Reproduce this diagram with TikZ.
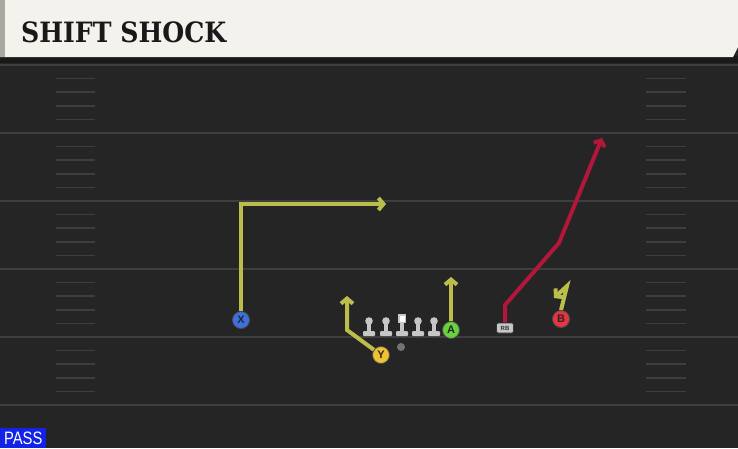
\documentclass[tikz,border=0pt]{standalone}
\usepackage{fontspec}
\usepackage{tikz}
\newfontfamily\titlefont{DejaVu Serif Condensed}
\newfontfamily\labelfont{Liberation Sans}
\newfontfamily\passfont[FakeStretch=0.82]{Liberation Sans}
\newcommand{\lTitle}{SHIFT SHOCK}
\newcommand{\lPlayType}{PASS}
\usetikzlibrary{arrows.meta, positioning, backgrounds}
\pgfdeclarelayer{field}
\pgfsetlayers{field,background,main}
\definecolor{fieldDark}{RGB}{37, 37, 37}
\definecolor{fieldLine}{RGB}{62, 62, 62}
\definecolor{headerCream}{RGB}{244, 242, 236}
\definecolor{headerStrip}{RGB}{168, 168, 160}
\definecolor{routeYellow}{RGB}{188, 190, 76}
\definecolor{routeRed}{RGB}{178, 22, 58}
\definecolor{playerBlue}{RGB}{62, 112, 226}
\definecolor{playerYellow}{RGB}{240, 194, 48}
\definecolor{playerGreen}{RGB}{104, 210, 60}
\definecolor{playerRed}{RGB}{232, 52, 64}
\definecolor{linemanGrey}{RGB}{198, 198, 198}
\definecolor{passBlue}{RGB}{18, 34, 230}

\begin{document}
\begin{tikzpicture} [
        x=1pt, y=-1pt,
        yard line/.style={draw=fieldLine, line width=2pt},
        hash mark/.style={draw=fieldLine, line width=1.6pt},
        route/.style={draw=#1, line width=4pt, line join=miter, -{Straight Barb[length=5pt, width=12pt]}},
        player/.style={circle, draw=black!70, line width=0.8pt, fill=#1, minimum size=17pt, inner sep=0pt, font=\labelfont\bfseries\fontsize{11}{11}\selectfont, text=black!85},
        lineman/.style={fill=linemanGrey},
        qb/.style={circle, fill=black!55, minimum size=8pt, inner sep=0pt},
        rb/.style={draw=black!80, line width=0.6pt, fill=linemanGrey, rounded corners=2pt, minimum width=17pt, minimum height=10pt, inner sep=0pt, font=\labelfont\bfseries\fontsize{6}{6}\selectfont, text=black!80},
        title/.style={anchor=base west, inner sep=0pt, font=\titlefont\bfseries\fontsize{28}{28}\selectfont, text=black!90},
        play type/.style={anchor=south west, fill=passBlue, minimum width=46pt, minimum height=20pt, inner sep=0pt, text=white, font=\passfont\fontsize{18}{18}\selectfont},
    ]

    \useasboundingbox (0,0) rectangle (738,448);

    % field
    \begin{pgfonlayer}{field}
    \fill[fieldDark] (0,0) rectangle (738,448);
    \foreach \yl in {65,133,201,269,337,405} {
        \draw[yard line] (0,\yl) -- (738,\yl);
    }
    \foreach \yl in {65,133,201,269,337} {
        \foreach \k in {1,...,4} {
            \draw[hash mark] (56,{\yl+13.6*\k}) -- (95,{\yl+13.6*\k});
            \draw[hash mark] (646,{\yl+13.6*\k}) -- (686,{\yl+13.6*\k});
        }
    }
    \end{pgfonlayer}

    % header
    \fill[black!90] (0,56) rectangle (738,63);
    \fill[headerCream] (0,0) -- (738,0) -- (738,47) -- (733,57) -- (0,57) -- cycle;
    \fill[headerStrip] (0,0) rectangle (5,57);
    \path (21,42) node[title] (title) {\lTitle};

    % players
    \path (241,320) node[player=playerBlue] (X) {X};
    \path (381,355) node[player=playerYellow] (Y) {Y};
    \path (451,330) node[player=playerGreen] (A) {A};
    \path (561,319) node[player=playerRed] (B) {B};
    \path (505,328) node[rb] (rb) {RB};
    \path (401,347) node[qb] (qb) {};

    \coordinate (x corner) at (241,204);
    \coordinate (x end) at (386,204);
    \coordinate (y corner) at (347,330);
    \coordinate (y end) at (347,296);
    \coordinate (a end) at (451,277);
    \coordinate (rb bend) at (505,305);
    \coordinate (rb break) at (559,243);
    \coordinate (rb end) at (602,138);
    \coordinate (b top) at (567,286);
    \coordinate (b end) at (554,298);

    \begin{scope}[on background layer]
    \draw[route=routeYellow] (X.north) -- (x corner) -- (x end);
    \draw[route=routeYellow] (Y.center) -- (y corner) -- (y end);
    \draw[route=routeYellow] (A.north) -- (a end);
    \draw[route=routeYellow] (B.north) -- (b top) -- (b end);
    \draw[route=routeRed] (rb.north) -- (rb bend) -- (rb break) -- (rb end);
    \end{scope}

    % offensive line
    \foreach \lx in {369,386,418,434} {
        \fill[lineman] (\lx,321) circle (3.8);
        \fill[lineman] ({\lx-1.6},323) rectangle ({\lx+1.6},332);
        \fill[lineman, rounded corners=1pt] ({\lx-6},331) rectangle ({\lx+6},336);
    }
    \fill[lineman] (398,314) rectangle (406,323);
    \fill[white] (399.5,315.5) rectangle (404.5,321.5);
    \fill[lineman] (400.4,323) rectangle (403.6,332);
    \fill[lineman, rounded corners=1pt] (396,331) rectangle (408,336);

    \path (0,448) node[play type] (play type) {\lPlayType};

\end{tikzpicture}
\end{document}
